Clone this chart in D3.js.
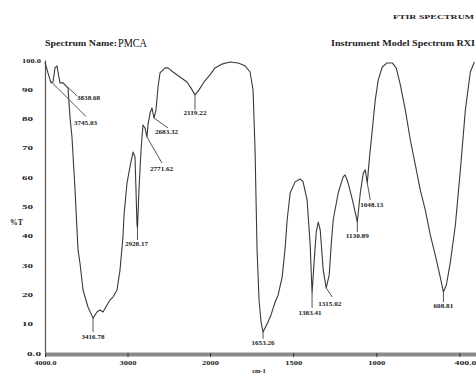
<!DOCTYPE html>
<html>
<head>
<meta charset="utf-8">
<script src="https://cdn.jsdelivr.net/npm/d3@7"></script>
<style>
  body { margin: 0; background: #fff; }
  svg { display: block; }
  .lbl { font-family: "Liberation Serif", serif; font-weight: bold; fill: #222; }
</style>
</head>
<body>
<div id="chart"></div>
<script>
// spectrum (cm-1 vs %T)
var wavenumber = [4000, 3964, 3927, 3903, 3879, 3855, 3842, 3818, 3782, 3758, 3721, 3697, 3673, 3636, 3600,
  3576, 3539, 3479, 3418, 3370, 3333, 3297, 3248, 3212, 3176, 3127, 3091, 3055, 3042, 3006, 2970, 2933,
  2909, 2897, 2885, 2879, 2861, 2836, 2812, 2788, 2764, 2752, 2727, 2703, 2679, 2655, 2630, 2606, 2545,
  2509, 2448, 2364, 2279, 2230, 2182, 2133, 2073, 2000, 1970, 1928, 1880, 1831, 1789, 1759, 1741, 1729,
  1717, 1705, 1693, 1681, 1669, 1651, 1633, 1608, 1590, 1566, 1548, 1536, 1518, 1488, 1458, 1440, 1416,
  1398, 1386, 1373, 1361, 1349, 1337, 1319, 1301, 1283, 1271, 1259, 1229, 1199, 1187, 1169, 1139, 1114,
  1096, 1078, 1066, 1054, 1042, 1024, 1006, 988, 964, 934, 904, 880, 855, 825, 795, 765, 735, 705, 675,
  645, 614, 596, 578, 554, 524, 494, 464, 434, 410];
var transmittance = [99.3, 95.6, 92.2, 92.5, 97.3, 98.0, 95.9, 92.2, 92.2, 91.5, 90.4, 80.5, 73.7, 55.6, 35.2,
  30.7, 21.5, 15.7, 11.9, 14.0, 14.7, 14.0, 16.4, 18.1, 19.1, 21.5, 28.3, 39.6, 47.1, 58.0, 63.5, 68.6,
  66.9, 55.6, 43.7, 42.7, 55.6, 69.3, 77.8, 76.8, 73.7, 77.8, 81.9, 83.6, 80.2, 82.9, 90.8, 95.6, 97.3,
  97.3, 95.9, 94.2, 92.5, 90.4, 88.1, 89.8, 92.5, 94.9, 97.3, 98.6, 99.3, 99.0, 98.0, 95.9, 89.8, 69.3,
  35.2, 18.1, 10.6, 7.2, 8.5, 10.6, 13.0, 17.4, 19.8, 25.9, 35.8, 45.4, 54.6, 58.4, 59.4, 58.4, 52.2,
  37.5, 20.5, 31.7, 41.3, 44.7, 42.0, 28.3, 22.2, 26.6, 36.9, 45.4, 54.6, 60.1, 60.8, 58.0, 51.2, 44.7,
  54.6, 61.4, 62.5, 58.0, 65.9, 76.1, 86.3, 93.2, 97.6, 99.0, 99.0, 97.3, 91.5, 82.9, 72.7, 64.2, 55.6,
  48.8, 40.3, 33.4, 25.6, 20.8, 23.2, 31.1, 43.7, 62.5, 82.9, 95.9, 99.3];

// labelled peaks
var peakLabels = ["3838.68", "3745.03", "3416.78", "2928.17", "2771.62", "2683.32", "2119.22",
  "1653.26", "1383.41", "1315.02", "1130.89", "1048.13", "608.81"];
var peakWn = [3782, 3940, 3418, 2879, 2764, 2679, 2182, 1681, 1386, 1301, 1114, 1054, 596];
var peakT = [92.2, 93.0, 11.9, 42.7, 73.7, 80.2, 88.1, 7.2, 20.5, 22.2, 44.7, 58.0, 20.8];

// axis ticks
var xTicks = [4000, 3000, 2000, 1500, 1000, 500, 400];
var xTickLabels = ["4000.0", "3000", "2000", "1500", "1000", "", "400.0"];
var yTicks = [0, 10, 20, 30, 40, 50, 60, 70, 80, 90, 100];

var width = 476, height = 374;

var svg = d3.select("#chart").append("svg")
    .attr("width", width).attr("height", height);
svg.append("rect").attr("width", width).attr("height", height).attr("fill", "#fff");

// x is expanded 2x below 2000 cm-1
var x = d3.scaleLinear().domain([4000, 2000, 400]).range([45, 210, 476]);
var y = d3.scaleLinear().domain([0, 100]).range([353, 60]);

// titles
svg.append("text").attr("class", "lbl")
    .attr("x", 393).attr("y", 19).attr("font-size", 7)
    .attr("textLength", 81).attr("lengthAdjust", "spacingAndGlyphs")
    .text("FTIR SPECTRUM");
svg.append("text").attr("class", "lbl")
    .attr("x", 45).attr("y", 46).attr("font-size", 8)
    .attr("textLength", 72).attr("lengthAdjust", "spacingAndGlyphs")
    .text("Spectrum Name:");
svg.append("text")
    .attr("x", 118).attr("y", 47)
    .attr("font-family", "Liberation Serif, serif").attr("font-size", 12.5).attr("fill", "#111")
    .attr("textLength", 29).attr("lengthAdjust", "spacingAndGlyphs")
    .text("PMCA");
svg.append("text").attr("class", "lbl")
    .attr("x", 331).attr("y", 46).attr("font-size", 8)
    .attr("textLength", 144).attr("lengthAdjust", "spacingAndGlyphs")
    .text("Instrument Model Spectrum RXI");
svg.append("text").attr("class", "lbl")
    .attr("x", 10).attr("y", 225).attr("font-size", 8)
    .attr("textLength", 13).attr("lengthAdjust", "spacingAndGlyphs")
    .text("%T");
svg.append("text").attr("class", "lbl")
    .attr("x", 259).attr("y", 372.5).attr("font-size", 6.5).attr("text-anchor", "middle")
    .text("cm-1");

// y axis
var yAxis = svg.append("g")
    .attr("transform", "translate(45,0)")
    .call(d3.axisLeft(y).tickValues(yTicks).tickSize(0).tickPadding(12)
      .tickFormat(function(d) { return d == 0 ? "0.0" : d == 100 ? "100.0" : d; }));
yAxis.select(".domain").attr("stroke", "#555").attr("stroke-width", 1.2);
yAxis.selectAll("text").attr("class", "lbl").attr("font-size", 6.5)
    .attr("dx", function(d) { return (d == 0 || d == 100) ? 8 : 0; })
    .attr("textLength", function(d) { return d == 100 ? 19 : d == 0 ? 14 : 11; })
    .attr("lengthAdjust", "spacingAndGlyphs");

// x axis, drawn as a thick grey bar
var xAxis = svg.append("g")
    .attr("transform", "translate(0,354)")
    .call(d3.axisBottom(x).tickValues(xTicks).tickSize(3).tickPadding(3)
      .tickFormat(function(d, i) { return xTickLabels[i]; }));
xAxis.select(".domain").remove();
xAxis.insert("rect", ":first-child")
    .attr("x", 45).attr("y", -1.5).attr("width", width - 45).attr("height", 4)
    .attr("fill", "#8a8a8a");
xAxis.selectAll(".tick line").attr("stroke", "#333").attr("y1", -1);
xAxis.selectAll("text").attr("class", "lbl").attr("font-size", 6.5)
    .attr("text-anchor", function(d) { return d == 400 ? "end" : "middle"; })
    .attr("textLength", function(d, i) { return xTickLabels[i].length > 4 ? 22 : 17; })
    .attr("lengthAdjust", "spacingAndGlyphs");

// spectrum
var pts = wavenumber.map(function(w, i) { return [w, transmittance[i]]; });
var line = d3.line()
    .x(function(d) { return x(d[0]); })
    .y(function(d) { return y(d[1]); });
svg.append("path")
    .datum(pts)
    .attr("fill", "none")
    .attr("stroke", "#3a3a3a")
    .attr("stroke-width", 1.1)
    .attr("stroke-linejoin", "round")
    .attr("d", line);

// peak leaders and labels: [leader dx, leader dy, label dx, label dy, anchor]
var peakLayout = [
  [14, 13, 14, 17, "start"], [36, 36, 24, 44, "start"], [0, 14, 0, 21, "middle"],
  [0, 12, -1, 18, "middle"], [15, 26, 3, 34, "start"], [14, 10, 1, 16, "start"],
  [0, 15, 0, 20, "middle"], [0, 7, 0, 13, "middle"], [0, 15, -2, 22, "middle"],
  [6, 9, -8, 18, "start"], [0, 10, 0, 16, "middle"], [3, 17, -7, 24, "start"],
  [0, 10, 0, 16, "middle"]
];

var peaks = svg.append("g");
peakLabels.forEach(function(lab, i) {
  var px = x(peakWn[i]), py = y(peakT[i]), o = peakLayout[i];
  peaks.append("line")
      .attr("x1", px).attr("y1", py)
      .attr("x2", px + o[0]).attr("y2", py + o[1])
      .attr("stroke", "#555").attr("stroke-width", 1);
  peaks.append("text").attr("class", "lbl")
      .attr("x", px + o[2]).attr("y", py + o[3])
      .attr("font-size", 6).attr("text-anchor", o[4])
      .attr("textLength", lab.length * 3.3).attr("lengthAdjust", "spacingAndGlyphs")
      .text(lab);
});
</script>
</body>
</html>
